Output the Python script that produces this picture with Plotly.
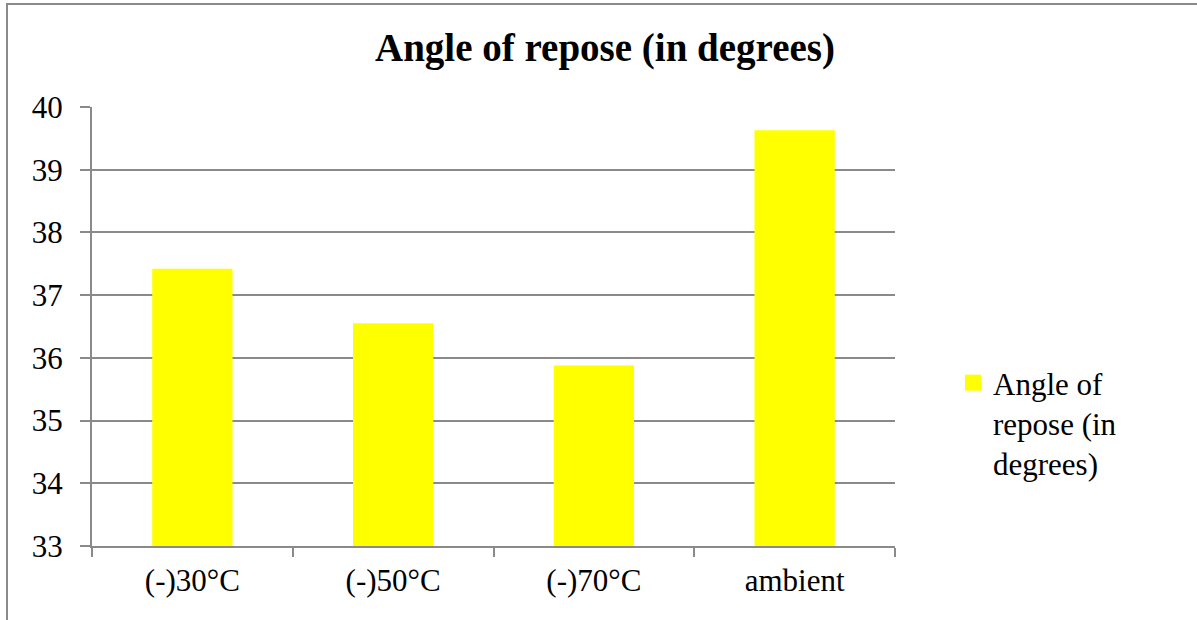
import plotly.graph_objects as go

categories = ["(-)30°C", "(-)50°C", "(-)70°C", "ambient"]
values = [37.42, 36.55, 35.88, 39.63]
series_name = "Angle of<br>repose (in<br>degrees)"
title_text = "Angle of repose (in degrees)"
y_ticks = [33, 34, 35, 36, 37, 38, 39, 40]

W, H = 1197, 620
L, R, T, B = 92, 302, 107, 74
pw = W - L - R
ph = H - T - B

bar_color = "#FFFF00"
font_fam = "Liberation Serif"
grid_col = "#8a8a8a"

fig = go.Figure()
fig.add_trace(go.Bar(x=categories, y=values, name=series_name,
                     marker=dict(color=bar_color, line=dict(width=0)),
                     showlegend=False, legendgroup="s"))
# legend entry for the same series (larger square swatch)
fig.add_trace(go.Scatter(x=[None], y=[None], mode="markers", name=series_name,
                         marker=dict(symbol="square", size=16, color=bar_color),
                         showlegend=True, legendgroup="s"))

fig.update_layout(
    width=W, height=H,
    margin=dict(l=L, r=R, t=T, b=B, autoexpand=False),
    paper_bgcolor="white", plot_bgcolor="white",
    bargap=0.6,
    font=dict(family=font_fam, size=31, color="black"),
    title=dict(text="<b>" + title_text + "</b>", x=605 / W, xref="container", xanchor="center",
               y=1 - 47 / H, yref="container", yanchor="middle",
               font=dict(family=font_fam, size=39, color="black")),
    showlegend=True,
    legend=dict(x=(953 - L) / pw, xanchor="left", y=(H - B - 356) / ph, yanchor="top",
                valign="top", font=dict(family=font_fam, size=31, color="black"),
                bgcolor="rgba(0,0,0,0)", tracegroupgap=0, itemwidth=30,
                itemsizing="trace"),
    xaxis=dict(showline=True, linecolor=grid_col, linewidth=2, ticks="outside",
               tickson="boundaries", ticklen=9, tickcolor=grid_col, tickwidth=2,
               showgrid=False, tickfont=dict(family=font_fam, size=31), ticklabelstandoff=6),
    yaxis=dict(range=[33, 40], tickvals=y_ticks, showline=True, linecolor=grid_col,
               linewidth=2, ticks="outside", ticklen=10, tickcolor=grid_col, tickwidth=2,
               showgrid=True, gridcolor=grid_col, gridwidth=2, zeroline=False,
               tickfont=dict(family=font_fam, size=31), ticklabelstandoff=11),
    shapes=[dict(type="rect", xref="paper", yref="paper",
                 x0=(7 - L) / pw, x1=(W + 20 - L) / pw,
                 y0=-0.5, y1=(H - B - 4) / ph,
                 line=dict(color="#8a8a8a", width=2), fillcolor="rgba(0,0,0,0)", layer="below")],
)

fig.write_html("out.html", config={"displayModeBar": False},
               post_script="document.body.style.margin='0';document.body.style.padding='0';")
